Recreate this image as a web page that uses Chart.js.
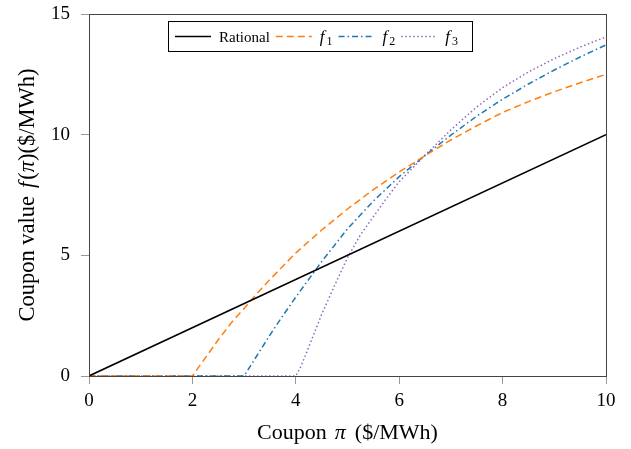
<!DOCTYPE html>
<html>
<head>
<meta charset="utf-8">
<script src="https://cdn.jsdelivr.net/npm/chart.js@4.4.1/dist/chart.umd.min.js"></script>
<style>
  html, body { margin: 0; padding: 0; background: #fff; }
  #wrap { width: 631px; height: 449px; position: relative; }
</style>
</head>
<body>
<div id="wrap"><canvas id="chart" width="631" height="449"></canvas></div>
<script>
// Valores (coupon pi en $/MWh)
const rationalX = [0, 10];
const rationalY = [0, 10];

const f1X = [0, 2, 2.25, 2.5, 2.75, 3, 3.25, 3.5, 3.75, 4, 4.5, 5, 5.5, 6, 6.5, 7, 7.5, 8, 8.5, 9, 9.5, 10];
const f1Y = [0, 0, 0.75, 1.5, 2.2, 2.8, 3.42, 4.0, 4.55, 5.1, 6.05, 6.92, 7.72, 8.45, 9.13, 9.78, 10.37, 10.92, 11.37, 11.78, 12.15, 12.5];

const f2X = [0, 3, 3.25, 3.5, 3.75, 4, 4.5, 5, 5.5, 6, 6.5, 7, 7.5, 8, 8.5, 9, 9.5, 10];
const f2Y = [0, 0, 0.85, 1.7, 2.5, 3.27, 4.74, 6.1, 7.25, 8.26, 9.14, 9.98, 10.77, 11.47, 12.1, 12.68, 13.22, 13.72];

const f3X = [0, 4, 4.1, 4.25, 4.5, 4.75, 5, 5.25, 5.5, 5.75, 6, 6.5, 7, 7.5, 8, 8.5, 9, 9.5, 10];
const f3Y = [0, 0, 0.4, 1.2, 2.55, 3.75, 4.9, 5.85, 6.6, 7.35, 8.05, 9.15, 10.2, 11.15, 11.95, 12.6, 13.15, 13.63, 14.05];

const seriesNames = ['Rational', 'f1', 'f2', 'f3'];
const xTicks = [0, 2, 4, 6, 8, 10];
const yTicks = [0, 5, 10, 15];

const SERIF = "'Liberation Serif', 'Times New Roman', serif";
const pts = (xs, ys) => xs.map((x, i) => ({ x, y: ys[i] }));

// texto con tramos en cursiva (títulos de ejes)
function drawMixed(ctx, segs, size) {
  let w = 0;
  segs.forEach(s => { ctx.font = (s.i ? 'italic ' : '') + size + 'px ' + SERIF; s.w = ctx.measureText(s.t).width + (s.gap || 0); w += s.w; });
  let x = -w / 2;
  segs.forEach(s => {
    ctx.font = (s.i ? 'italic ' : '') + size + 'px ' + SERIF;
    ctx.fillText(s.t, x, 0);
    x += s.w;
  });
}

const axisTitles = {
  id: 'axisTitles',
  afterDraw(chart) {
    const { ctx, chartArea: a } = chart;
    ctx.save();
    ctx.fillStyle = '#000';
    ctx.textBaseline = 'alphabetic';
    ctx.textAlign = 'left';
    // eje x
    ctx.save();
    ctx.translate((a.left + a.right) / 2, a.bottom + 63);
    drawMixed(ctx, [
      { t: 'Coupon', gap: 8 },
      { t: 'π', i: true, gap: 9 },
      { t: '($/MWh)' }
    ], 22);
    ctx.restore();
    // eje y
    ctx.save();
    ctx.translate(a.left - 55, (a.top + a.bottom) / 2);
    ctx.rotate(-Math.PI / 2);
    drawMixed(ctx, [
      { t: 'Coupon value', gap: 8 },
      { t: 'f', i: true, gap: 2 },
      { t: '(' },
      { t: 'π', i: true },
      { t: ')($/MWh)' }
    ], 22.5);
    ctx.restore();
    ctx.restore();
  }
};

// Leyenda enmarcada dentro del área (estilo pgfplots)
const boxLegend = {
  id: 'boxLegend',
  afterDraw(chart) {
    const { ctx, chartArea } = chart;
    const ds = chart.data.datasets;
    const x0 = chartArea.left + 79, y0 = chartArea.top + 7, h = 30;
    const sample = 36, pad = 7, gapS = 8, gapT = 6, padEnd = 14;
    ctx.save();
    const items = ds.map(d => {
      const sub = d.label.startsWith('f') ? d.label.slice(1) : null;
      let w;
      if (sub) {
        ctx.font = 'italic 17px ' + SERIF; w = ctx.measureText('f').width + 2;
        ctx.font = '12px ' + SERIF; w += ctx.measureText(sub).width;
      } else {
        ctx.font = '15px ' + SERIF; w = ctx.measureText(d.label).width;
      }
      return { d, sub, w };
    });
    let total = pad;
    items.forEach((it, i) => { total += sample + gapS + it.w + (i < items.length - 1 ? gapT : padEnd); });
    ctx.fillStyle = '#fff';
    ctx.fillRect(x0, y0, total, h);
    ctx.strokeStyle = '#000'; ctx.lineWidth = 1; ctx.setLineDash([]);
    ctx.strokeRect(x0 + 0.5, y0 + 0.5, total, h);
    let cx = x0 + pad;
    const cy = y0 + h / 2 + 0.5;
    items.forEach((it) => {
      ctx.strokeStyle = it.d.borderColor;
      ctx.lineWidth = it.d.borderWidth;
      ctx.setLineDash(it.d.borderDash || []);
      ctx.beginPath(); ctx.moveTo(cx, cy); ctx.lineTo(cx + sample, cy); ctx.stroke();
      ctx.setLineDash([]);
      cx += sample + gapS;
      ctx.fillStyle = '#000';
      ctx.textBaseline = 'alphabetic';
      if (it.sub) {
        ctx.font = 'italic 17px ' + SERIF;
        ctx.fillText('f', cx, cy + 5);
        const fw = ctx.measureText('f').width + 2;
        ctx.font = '12px ' + SERIF;
        ctx.fillText(it.sub, cx + fw, cy + 8);
      } else {
        ctx.font = '15px ' + SERIF;
        ctx.fillText(it.d.label, cx, cy + 5);
      }
      cx += it.w + gapT;
    });
    ctx.restore();
  }
};

// Marco completo alrededor del área de trazado
const frame = {
  id: 'frame',
  afterDatasetsDraw(chart) {
    const { ctx, chartArea: a } = chart;
    ctx.save();
    ctx.strokeStyle = '#444'; ctx.lineWidth = 1;
    ctx.strokeRect(Math.round(a.left) + 0.5, Math.round(a.top) + 0.5, Math.round(a.right - a.left), Math.round(a.bottom - a.top));
    ctx.restore();
  }
};

const lineStyles = [
  { color: '#000000', dash: [], width: 1.6 },
  { color: '#ff7f0e', dash: [7, 4], width: 1.5 },
  { color: '#1f77b4', dash: [6, 3, 1.5, 3], width: 1.5 },
  { color: '#9467bd', dash: [1.5, 2.5], width: 1.5 }
];
const seriesData = [pts(rationalX, rationalY), pts(f1X, f1Y), pts(f2X, f2Y), pts(f3X, f3Y)];

const ctx = document.getElementById('chart');
new Chart(ctx, {
  type: 'line',
  data: {
    datasets: seriesNames.map((name, i) => ({
      label: name,
      data: seriesData[i],
      borderColor: lineStyles[i].color,
      borderDash: lineStyles[i].dash,
      borderWidth: lineStyles[i].width,
      pointRadius: 0,
      fill: false,
      tension: 0
    }))
  },
  options: {
    responsive: false,
    animation: false,
    devicePixelRatio: 1,
    layout: { padding: { top: 14, right: 25, left: 0, bottom: 0 } },
    plugins: { legend: { display: false }, tooltip: { enabled: false } },
    scales: {
      x: {
        type: 'linear', min: 0, max: 10,
        afterBuildTicks: s => { s.ticks = xTicks.map(v => ({ value: v })); },
        afterFit: s => { s.height = 73; s.paddingLeft = 0; s.paddingRight = 0; },
        grid: { drawOnChartArea: false, drawTicks: true, tickLength: 8, tickColor: '#999', tickWidth: 1 },
        border: { display: true, color: '#444' },
        ticks: { color: '#000', padding: 6, font: { family: SERIF, size: 19 } }
      },
      y: {
        type: 'linear', min: 0, max: 15,
        afterBuildTicks: s => { s.ticks = yTicks.map(v => ({ value: v })); },
        afterFit: s => { s.width = 89; s.paddingTop = 0; s.paddingBottom = 0; },
        grid: { drawOnChartArea: false, drawTicks: true, tickLength: 8, tickColor: '#999', tickWidth: 1 },
        border: { display: true, color: '#444' },
        ticks: { color: '#000', padding: 11, font: { family: SERIF, size: 19 } }
      }
    }
  },
  plugins: [frame, boxLegend, axisTitles]
});
</script>
</body>
</html>
